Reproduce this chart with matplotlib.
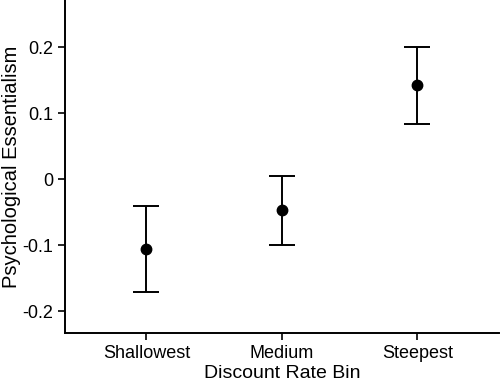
import matplotlib
matplotlib.use("Agg")
import matplotlib.pyplot as plt

plt.rcParams['font.family'] = ['Liberation Sans', 'DejaVu Sans']

bins = ["Shallowest", "Medium", "Steepest"]
means = [-0.106, -0.046, 0.143]
upper = [-0.041, 0.005, 0.201]
lower = [-0.171, -0.099, 0.084]

err_lo = [m - l for m, l in zip(means, lower)]
err_hi = [u - m for m, u in zip(means, upper)]

fig = plt.figure(figsize=(5.01, 3.87), dpi=100)
ax = fig.add_axes([0.1297, 0.1395, 0.866, 0.8605])

x = list(range(len(bins)))
ax.errorbar(x, means, yerr=[err_lo, err_hi], fmt='o', color='black',
            ecolor='black', elinewidth=1.4, capsize=9.5, capthick=1.4,
            markersize=7.5)

ax.set_xlim(-0.6, 2.6)
ax.set_ylim(-0.233, 0.272)
ax.set_xticks(x)
ax.set_xticklabels(bins)
ax.set_yticks([-0.2, -0.1, 0, 0.1, 0.2])
ax.set_yticklabels(["-0.2", "-0.1", "0", "0.1", "0.2"])
ax.tick_params(labelsize=13, length=5, width=1.2, direction='out')

ax.spines['top'].set_visible(False)
ax.spines['right'].set_visible(False)
ax.spines['left'].set_linewidth(1.4)
ax.spines['bottom'].set_linewidth(1.4)

ax.set_xlabel("Discount Rate Bin", fontsize=14, labelpad=2)
ax.set_ylabel("Psychological Essentialism", fontsize=14.5, labelpad=1)

fig.savefig("out.png", dpi=100)
